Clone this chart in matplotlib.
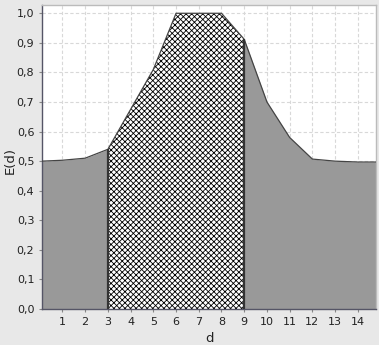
import numpy as np
import matplotlib
matplotlib.use("Agg")
import matplotlib.pyplot as plt

# values
d = [0.1, 1, 2, 3, 4, 5, 6, 7, 8, 9, 10, 11, 12, 13, 14, 14.8]
E = [0.50, 0.503, 0.51, 0.54, 0.675, 0.81, 1.0, 1.0, 1.0, 0.912, 0.70, 0.58, 0.507, 0.50, 0.497, 0.497]
lo, hi = 3, 9
xticks = list(range(1, 15))
yticks = [i / 10 for i in range(11)]

plt.rcParams['hatch.linewidth'] = 0.6
plt.rcParams['hatch.color'] = 'black'

fig = plt.figure(figsize=(3.79, 3.45), dpi=100, facecolor='#e8e8e8')
ax = fig.add_axes([42 / 379, 1 - 309 / 345, 334 / 379, 304 / 345])
ax.set_facecolor('white')

d = np.array(d)
E = np.array(E)
left = d <= lo
mid = (d >= lo) & (d <= hi)
right = d >= hi

ax.fill_between(d[left], 0, E[left], color='#999999', lw=0, zorder=2)
ax.fill_between(d[right], 0, E[right], color='#999999', lw=0, zorder=2)
ax.fill_between(d[mid], 0, E[mid], facecolor='white', edgecolor='black',
                hatch='xxxxxx', lw=0, zorder=2)
ax.plot(d, E, color='#444444', lw=0.9, zorder=3)
ax.vlines([lo, hi], 0, [E[d == lo][0], E[d == hi][0]], color='#333333', lw=1.6, zorder=4)

ax.set_xlim(0.1, 14.8)
ax.set_ylim(0, 1.028)
ax.set_xticks(xticks)
ax.set_yticks(yticks)
ax.set_yticklabels([("%.1f" % v).replace('.', ',') for v in yticks])
ax.grid(True, color='#d8d8d8', ls=(0, (3, 2)), lw=0.8, zorder=0)
ax.set_axisbelow(True)

ax.tick_params(labelsize=8, length=2.5, width=0.8, color='#888888', labelcolor='#222222', pad=3)
for s in ['left', 'bottom']:
    ax.spines[s].set_color('#555566')
    ax.spines[s].set_linewidth(1.0)
for s in ['top', 'right']:
    ax.spines[s].set_color('#bbbbbb')
    ax.spines[s].set_linewidth(1.0)

ax.set_xlabel('d', fontsize=9.5, color='#222222', labelpad=4)
fig.text(10 / 379, 1 - 160 / 345, 'E(d)', rotation=90, fontsize=9.5, color='#222222',
         ha='center', va='center')

fig.savefig('out.png', dpi=100, facecolor=fig.get_facecolor())
